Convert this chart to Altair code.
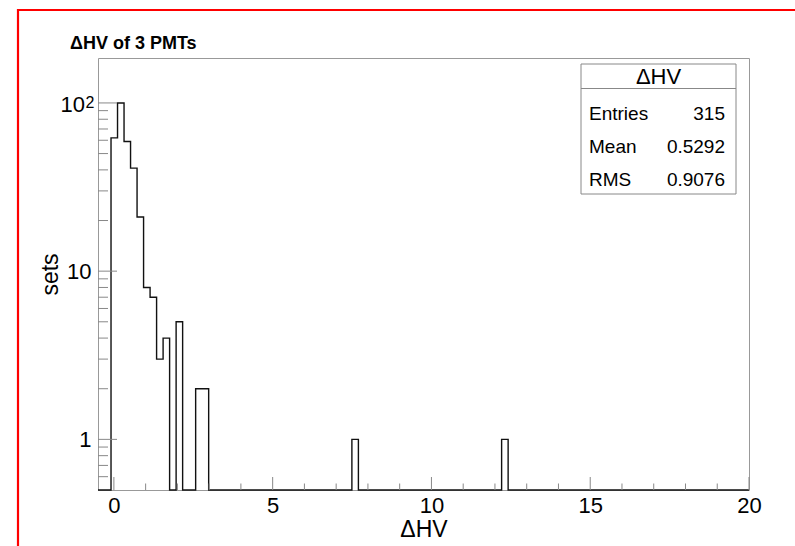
import altair as alt
import pandas as pd

# ---------------- data ----------------
TITLE = "ΔHV of 3 PMTs"
X_LABEL = "ΔHV"
Y_LABEL = "sets"
STATS_TITLE = "ΔHV"

N_BINS = 100
X_MIN = -0.5
X_MAX = 20.0
Y_MIN = 0.5
Y_MAX = 185

# non-empty histogram bins (bin index -> count)
bin_index = [2, 3, 4, 5, 6, 7, 8, 9, 10, 12, 15, 16, 39, 62]
bin_count = [62, 100, 59, 41, 21, 8, 7, 3, 4, 5, 2, 2, 1, 1]

x_ticks_major = [0, 5, 10, 15, 20]
x_ticks_minor = [1, 2, 3, 4, 6, 7, 8, 9, 11, 12, 13, 14, 16, 17, 18, 19]
y_ticks_major = [1, 10, 100]
y_ticks_minor = [0.6, 0.7, 0.8, 0.9, 2, 3, 4, 5, 6, 7, 8, 9,
                 20, 30, 40, 50, 60, 70, 80, 90]
# the 10^2 label, drawn as base + superscript exponent
y_pow_at = [100]
y_pow_base = ["10"]
y_pow_exp = ["2"]

stat_names = ["Entries", "Mean", "RMS"]
stat_values = ["315", "0.5292", "0.9076"]

# ---------------- build tables ----------------
bin_w = (X_MAX - X_MIN) / N_BINS
counts = [0] * N_BINS
for i, c in zip(bin_index, bin_count):
    counts[i] = c
hist = pd.DataFrame({
    "edge": [X_MIN + i * bin_w for i in range(N_BINS)] + [X_MAX],
    "count": counts + [counts[-1]],
})
powdf = pd.DataFrame({"v": y_pow_at, "b": y_pow_base, "e": y_pow_exp})

W, H = 651, 432
FONT = "Liberation Sans"

xs = alt.Scale(domain=[X_MIN, X_MAX], nice=False, zero=False)
ys = alt.Scale(type="log", domain=[Y_MIN, Y_MAX], nice=False)

x_axis = alt.Axis(
    values=x_ticks_major, title=X_LABEL, labelPadding=5, labelFlush=False,
    format="d", titleX=W / 2, titleY=46, titleBaseline="alphabetic", titleAlign="center")
y_axis = alt.Axis(
    values=y_ticks_major, title=Y_LABEL, labelPadding=7, labelFlush=False,
    labelBaseline="middle",
    labelExpr="datum.value >= 100 ? '' : format(datum.value, 'd')",
    titleX=-41, titleY=H / 2, titleAngle=270, titleBaseline="alphabetic",
    titleAlign="center")

one = pd.DataFrame({"a": [0]})

# red outer border
border = alt.Chart(one).mark_rect(fill="white", fillOpacity=0, stroke="#ff0000", strokeWidth=2.2).encode(
    x=alt.value(-80), x2=alt.value(W + 120), y=alt.value(-48), y2=alt.value(H + 120)
)

line = alt.Chart(hist).transform_calculate(
    h=f"max(datum.count, {Y_MIN})"
).mark_line(interpolate="step-after", color="#111111", strokeWidth=1.4).encode(
    x=alt.X("edge:Q", scale=xs, axis=x_axis),
    y=alt.Y("h:Q", scale=ys, axis=y_axis),
)

tick_color = "#888888"
xmaj = alt.Chart(pd.DataFrame({"v": x_ticks_major})).mark_rule(color=tick_color, strokeWidth=1).encode(
    x=alt.X("v:Q", scale=xs, axis=x_axis), y=alt.value(H), y2=alt.value(H - 13))
xmin = alt.Chart(pd.DataFrame({"v": x_ticks_minor})).mark_rule(color=tick_color, strokeWidth=1).encode(
    x=alt.X("v:Q", scale=xs, axis=x_axis), y=alt.value(H), y2=alt.value(H - 6.5))
ymaj = alt.Chart(pd.DataFrame({"v": y_ticks_major})).mark_rule(color=tick_color, strokeWidth=1).encode(
    y=alt.Y("v:Q", scale=ys, axis=y_axis), x=alt.value(0), x2=alt.value(19))
ymin = alt.Chart(pd.DataFrame({"v": y_ticks_minor})).mark_rule(color=tick_color, strokeWidth=1).encode(
    y=alt.Y("v:Q", scale=ys, axis=y_axis), x=alt.value(0), x2=alt.value(10))

# 10^2 label: base and superscript exponent
pow_base = alt.Chart(powdf).mark_text(
    font=FONT, fontSize=22, align="right", baseline="middle", dy=2, color="#000000"
).encode(y=alt.Y("v:Q", scale=ys, axis=y_axis), x=alt.value(-13), text="b:N")
pow_exp = alt.Chart(powdf).mark_text(
    font=FONT, fontSize=16, align="left", baseline="alphabetic", dy=5, color="#000000"
).encode(y=alt.Y("v:Q", scale=ys, axis=y_axis), x=alt.value(-12.5), text="e:N")

title = alt.Chart(one).mark_text(
    text=TITLE, font=FONT, fontSize=18, fontWeight="bold", align="left",
    baseline="alphabetic", color="#000000"
).encode(x=alt.value(-28), y=alt.value(-9))

# statistics box
BX1, BX2, BY1, BY2, BDIV = 483, 638, 6, 136, 30.5
box = alt.Chart(one).mark_rect(fill="white", stroke="#888888", strokeWidth=1).encode(
    x=alt.value(BX1), x2=alt.value(BX2), y=alt.value(BY1), y2=alt.value(BY2))
divider = alt.Chart(one).mark_rule(color="#888888", strokeWidth=1).encode(
    x=alt.value(BX1), x2=alt.value(BX2), y=alt.value(BDIV))
head = alt.Chart(one).mark_text(
    text=STATS_TITLE, font=FONT, fontSize=22, align="center", baseline="middle", color="#000000"
).encode(x=alt.value((BX1 + BX2) / 2), y=alt.value(18.5))

stat_layers = []
for k, (nm, val) in enumerate(zip(stat_names, stat_values)):
    yb = 61.5 + 33 * k
    stat_layers.append(alt.Chart(one).mark_text(
        text=nm, font=FONT, fontSize=19, align="left", baseline="alphabetic", color="#000000"
    ).encode(x=alt.value(491), y=alt.value(yb)))
    stat_layers.append(alt.Chart(one).mark_text(
        text=val, font=FONT, fontSize=19, align="right", baseline="alphabetic", color="#000000"
    ).encode(x=alt.value(627), y=alt.value(yb)))

chart = alt.layer(
    border, line, xmaj, xmin, ymaj, ymin, pow_base, pow_exp, title, box, divider, head, *stat_layers
).properties(
    width=W, height=H,
    autosize=alt.AutoSizeParams(type="none"),
    padding={"left": 98, "top": 58, "right": 46, "bottom": 56},
    background="white",
).configure_view(
    stroke="#999999", strokeWidth=1
).configure_axis(
    grid=False, domain=False, ticks=False, tickSize=0,
    labelFont=FONT, labelFontSize=22, labelColor="#000000",
    titleFont=FONT, titleFontSize=23, titleFontWeight="normal", titleColor="#000000",
    labelOverlap=False,
)

chart.save("out.html", embed_options={"renderer": "svg", "actions": False})
